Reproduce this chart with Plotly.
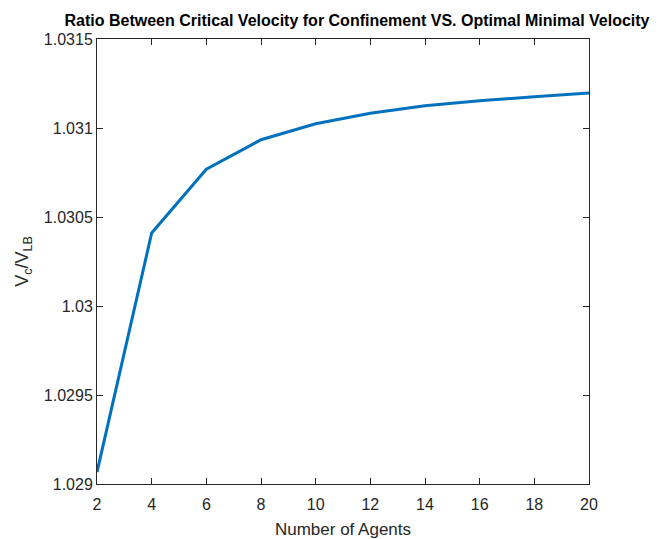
import plotly.graph_objects as go

agents = [2, 4, 6, 8, 10, 12, 14, 16, 18, 20]
ratio = [1.029067, 1.03041, 1.030768, 1.030934, 1.031024, 1.031083, 1.031125, 1.031153, 1.031176, 1.031196]

x_ticks = [2, 4, 6, 8, 10, 12, 14, 16, 18, 20]
y_ticks = [1.029, 1.0295, 1.03, 1.0305, 1.031, 1.0315]
y_tick_text = ["1.029", "1.0295", "1.03", "1.0305", "1.031", "1.0315"]

FONT = "Liberation Sans, Arial, sans-serif"
AX = "#262626"

fig = go.Figure()
fig.add_trace(go.Scatter(x=agents, y=ratio, mode="lines",
                         line=dict(color="#0072BD", width=3), showlegend=False))

axis_common = dict(showline=True, linecolor=AX, linewidth=1, mirror="ticks",
                   ticks="inside", ticklen=6, tickwidth=1, tickcolor=AX,
                   showgrid=False, zeroline=False, automargin=False,
                   tickfont=dict(family=FONT, size=16, color=AX))

fig.update_layout(
    width=664, height=539,
    margin=dict(l=97, r=75, t=39, b=55),
    paper_bgcolor="white", plot_bgcolor="white",
    title=dict(text="<b>Ratio Between Critical Velocity for Confinement VS. Optimal Minimal Velocity</b>",
               xref="container", x=357/664, xanchor="center", yref="container", y=1-20/539, yanchor="middle",
               font=dict(family=FONT, size=16, color="black")),
    xaxis=dict(range=[2, 20], tickvals=x_ticks, ticktext=[str(v) for v in x_ticks],
               ticklabelstandoff=6,
               title=dict(text="Number of Agents", font=dict(family=FONT, size=17, color=AX), standoff=10),
               **axis_common),
    yaxis=dict(range=[1.029, 1.0315], tickvals=y_ticks, ticktext=y_tick_text,
               title=dict(text="V<sub>c</sub>/V<sub>LB</sub>", font=dict(family=FONT, size=18, color=AX), standoff=10),
               **axis_common),
)

fig.write_html("out.html")
